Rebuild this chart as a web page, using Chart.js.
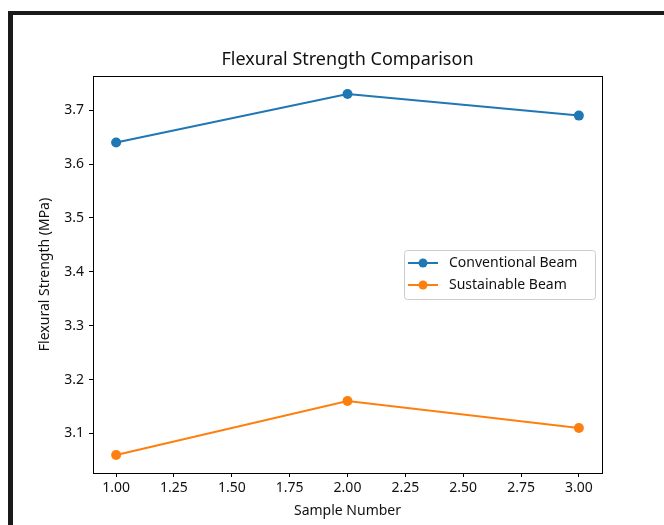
<html lang="en">
<head>
  <meta charset="UTF-8">
  <title>Flexural Strength Comparison</title>
  <script src="https://cdn.jsdelivr.net/npm/chart.js"></script>
  <style>
    body, html {
      margin: 0;
      padding: 0;
      background: #ffffff;
    }
    #myChart {
      display: block;
    }
  </style>
</head>
<body>
  <canvas id="myChart" width="664" height="525"></canvas>

  <script>
    const samples = [1, 2, 3];
    const conventional = [3.64, 3.73, 3.69];
    const sustainable = [3.06, 3.16, 3.11];
    const seriesNames = ['Conventional Beam', 'Sustainable Beam'];
    const xTicks = [1.00, 1.25, 1.50, 1.75, 2.00, 2.25, 2.50, 2.75, 3.00];
    const yTicks = [3.1, 3.2, 3.3, 3.4, 3.5, 3.6, 3.7];

    const FONT = "'Noto Sans', 'Open Sans', sans-serif";
    const blue = '#1f77b4';
    const orange = '#ff7f0e';

    function toPoints(vals) {
      return samples.map((s, i) => ({ x: s, y: vals[i] }));
    }

    // frame, title, axis labels, plot box, legend
    const decorations = {
      id: 'decorations',
      beforeDraw(chart) {
        const { ctx } = chart;
        ctx.save();
        ctx.fillStyle = '#ffffff';
        ctx.fillRect(0, 0, chart.width, chart.height);
        ctx.fillStyle = '#1a1a1a';
        ctx.fillRect(8, 11, chart.width - 8, 4);
        ctx.fillRect(8, 11, 5, chart.height - 11);
        ctx.restore();
      },
      afterDraw(chart) {
        const { ctx, chartArea } = chart;
        ctx.save();
        ctx.strokeStyle = '#000';
        ctx.lineWidth = 1;
        ctx.strokeRect(chartArea.left + 0.5, chartArea.top + 0.5,
          chartArea.right - chartArea.left, chartArea.bottom - chartArea.top);

        ctx.fillStyle = '#111';
        ctx.textAlign = 'center';
        ctx.textBaseline = 'middle';
        ctx.font = '18px ' + FONT;
        ctx.fillText('Flexural Strength Comparison', (chartArea.left + chartArea.right) / 2, 60);

        ctx.font = '14px ' + FONT;
        ctx.fillText('Sample Number', (chartArea.left + chartArea.right) / 2, 511);

        ctx.save();
        ctx.translate(45, (chartArea.top + chartArea.bottom) / 2);
        ctx.rotate(-Math.PI / 2);
        ctx.fillText('Flexural Strength (MPa)', 0, 0);
        ctx.restore();

        // legend
        const lx = 404, ly = 250, lw = 191, lh = 49;
        ctx.beginPath();
        ctx.roundRect(lx + 0.5, ly + 0.5, lw, lh, 3);
        ctx.fillStyle = 'rgba(255,255,255,0.8)';
        ctx.fill();
        ctx.strokeStyle = '#cccccc';
        ctx.stroke();

        const colors = [blue, orange];
        seriesNames.forEach((name, i) => {
          const y = 263 + i * 22;
          ctx.strokeStyle = colors[i];
          ctx.lineWidth = 2;
          ctx.beginPath();
          ctx.moveTo(408, y);
          ctx.lineTo(438, y);
          ctx.stroke();
          ctx.fillStyle = colors[i];
          ctx.beginPath();
          ctx.arc(423, y, 4.5, 0, Math.PI * 2);
          ctx.fill();
          ctx.fillStyle = '#111';
          ctx.textAlign = 'left';
          ctx.font = '14px ' + FONT;
          ctx.fillText(name, 449, y);
        });
        ctx.restore();
      }
    };

    const ctx = document.getElementById('myChart').getContext('2d');
    const myChart = new Chart(ctx, {
      type: 'line',
      data: {
        datasets: [
          {
            label: seriesNames[0],
            data: toPoints(conventional),
            borderColor: blue,
            backgroundColor: blue,
            borderWidth: 2,
            pointRadius: 5,
            pointBorderWidth: 0,
            tension: 0
          },
          {
            label: seriesNames[1],
            data: toPoints(sustainable),
            borderColor: orange,
            backgroundColor: orange,
            borderWidth: 2,
            pointRadius: 5,
            pointBorderWidth: 0,
            tension: 0
          }
        ]
      },
      options: {
        responsive: false,
        animation: false,
        layout: {
          padding: { left: 0, top: 76, right: 62, bottom: 0 }
        },
        scales: {
          x: {
            type: 'linear',
            min: 0.9,
            max: 3.1,
            afterBuildTicks(scale) {
              scale.ticks = xTicks.map(v => ({ value: v }));
            },
            afterFit(scale) {
              scale.height = 52;
            },
            grid: {
              drawOnChartArea: false,
              drawTicks: true,
              tickLength: 4,
              color: '#000'
            },
            border: { display: true, color: '#000' },
            ticks: {
              color: '#111',
              padding: 3,
              maxRotation: 0,
              autoSkip: false,
              font: { family: FONT, size: 14 },
              callback: v => v.toFixed(2)
            }
          },
          y: {
            type: 'linear',
            min: 3.0265,
            max: 3.7635,
            afterBuildTicks(scale) {
              scale.ticks = yTicks.map(v => ({ value: v }));
            },
            afterFit(scale) {
              scale.width = 93;
            },
            grid: {
              drawOnChartArea: false,
              drawTicks: true,
              tickLength: 4,
              color: '#000'
            },
            border: { display: true, color: '#000' },
            ticks: {
              color: '#111',
              padding: 5,
              autoSkip: false,
              font: { family: FONT, size: 14 },
              callback: v => v.toFixed(1)
            }
          }
        },
        plugins: {
          legend: { display: false },
          title: { display: false },
          tooltip: { enabled: false }
        }
      },
      plugins: [decorations]
    });
  </script>
</body>
</html>
